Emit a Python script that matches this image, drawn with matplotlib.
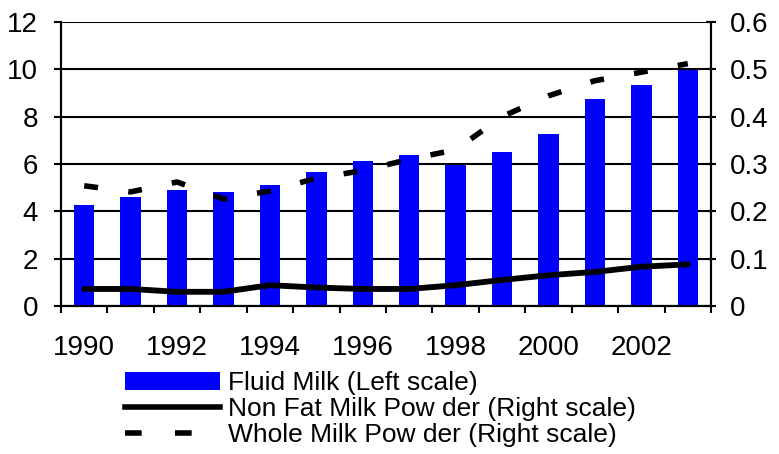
import numpy as np
import matplotlib
matplotlib.use("Agg")
import matplotlib.pyplot as plt
from matplotlib.patches import Patch
from matplotlib.lines import Line2D

plt.rcParams['font.family'] = ['Liberation Sans', 'DejaVu Sans']

years = list(range(1990, 2004))
fluid_milk = [4.25, 4.62, 4.9, 4.8, 5.1, 5.66, 6.13, 6.38, 5.96, 6.5, 7.27, 8.76, 9.32, 9.98]
nonfat_powder = [0.036, 0.036, 0.030, 0.030, 0.044, 0.039, 0.036, 0.036, 0.044, 0.055, 0.065, 0.072, 0.083, 0.088]
whole_powder = [0.254, 0.241, 0.262, 0.226, 0.243, 0.270, 0.286, 0.310, 0.330, 0.400, 0.444, 0.476, 0.494, 0.512]
left_ticks = [0, 2, 4, 6, 8, 10, 12]
right_ticks = [0, 0.1, 0.2, 0.3, 0.4, 0.5, 0.6]
legend_labels = ["Fluid Milk (Left scale)",
                 "Non Fat Milk Pow der (Right scale)",
                 "Whole Milk Pow der (Right scale)"]

W, H = 779, 454
fig = plt.figure(figsize=(W / 100, H / 100), dpi=100)
ax = fig.add_axes([61 / W, (H - 306) / H, 650 / W, 284 / H])
ax2 = ax.twinx()

x = np.arange(len(years))
ax.bar(x, fluid_milk, width=0.44, color='#0000ff', zorder=2)
ax.set_ylim(0, 12)
ax.set_xlim(-0.5, len(years) - 0.5)
ax.set_yticks(left_ticks)
ax.yaxis.grid(True, color='black', lw=1.5)
ax.set_axisbelow(True)

# category boundary ticks, labels on every other year
ax.set_xticks(np.arange(-0.5, len(years)), labels=[])
ax.set_xticks(x[::2], labels=[str(y) for y in years[::2]], minor=True)
ax.tick_params(axis='x', which='major', direction='out', length=5, width=1.5)
ax.tick_params(axis='x', which='minor', length=0, pad=21, labelsize=20)
ax.tick_params(axis='y', direction='out', length=5, width=1.5, pad=11.5, labelsize=20)

ax2.plot(x, nonfat_powder, color='black', lw=4.2, solid_capstyle='round', zorder=3)
ax2.plot(x, whole_powder, color='black', lw=4, ls=(0, (2.5, 5.5)), zorder=3)
ax2.set_ylim(0, 0.6)
ax2.set_yticks(right_ticks, labels=['0', '0.1', '0.2', '0.3', '0.4', '0.5', '0.6'])
ax2.tick_params(axis='y', direction='inout', length=7, width=1.5, pad=10, labelsize=20)

for a in (ax, ax2):
    for s in a.spines.values():
        s.set_linewidth(1.5)
ax.spines['top'].set_visible(False)
ax2.spines['top'].set_visible(False)

handles = [Patch(facecolor='#0000ff', edgecolor='none'),
           Line2D([], [], color='black', lw=4),
           Line2D([], [], color='black', lw=4, ls=(0, (3, 6)))]
fig.legend(handles, legend_labels, loc='upper left', bbox_to_anchor=(125 / W, 1 - 371 / H),
           frameon=False, fontsize=19, handlelength=3.6, handleheight=0.7,
           handletextpad=0.3, labelspacing=0.08, borderpad=0, borderaxespad=0)

fig.savefig('out.png', dpi=100)
